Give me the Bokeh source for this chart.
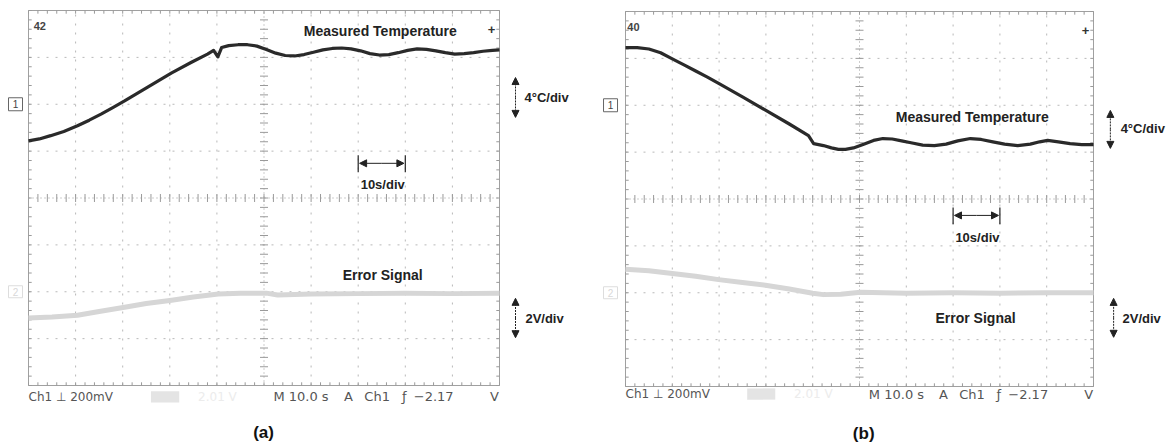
import numpy as np
from bokeh.plotting import figure
from bokeh.layouts import row
from bokeh.models import Label, Arrow, NormalHead, Range1d
from bokeh.embed import file_html
from bokeh.resources import INLINE

# ---------------- data (time in s, amplitude in screen divisions) ----------------
# panel (a)
temp_a_t = [0, 2.3, 4.7, 7.5, 10.4, 12.9, 15.4, 17.9, 20.4, 25.4, 30.4, 34.5, 38.0, 39.3, 40.2,
            41.0, 42.5, 44.5, 46.5, 48.5, 50.5, 52.5, 54.5, 56.5, 58.5, 60.5, 62.5, 64.5, 66.5,
            68.5, 70.5, 72.5, 74.5, 76.5, 78.5, 80.5, 82.5, 84.5, 86.5, 88.5, 90.5, 92.5, 94.5,
            96.5, 98.5, 100]
temp_a_v = [1.22, 1.26, 1.33, 1.42, 1.54, 1.66, 1.79, 1.93, 2.07, 2.37, 2.67, 2.89, 3.07, 3.15, 3.01,
            3.21, 3.25, 3.27, 3.27, 3.24, 3.17, 3.09, 3.04, 3.03, 3.06, 3.11, 3.16, 3.19, 3.20,
            3.18, 3.14, 3.08, 3.05, 3.06, 3.10, 3.15, 3.18, 3.17, 3.14, 3.10, 3.07, 3.08, 3.10,
            3.13, 3.15, 3.16]
err_a_t = [0, 5, 10.4, 15, 20.4, 25, 30.4, 35, 40.3, 45.0, 50.5, 52.9, 60, 70, 80, 90, 100]
err_a_v = [-2.56, -2.54, -2.50, -2.42, -2.33, -2.25, -2.18, -2.11, -2.05, -2.03, -2.03, -2.07,
           -2.05, -2.04, -2.03, -2.04, -2.03]

# panel (b)
temp_b_t = [0, 2.5, 5, 7.5, 10, 12.5, 15, 17.5, 20, 25, 30, 35, 39.1, 40.2, 42.3, 44, 45.5, 47,
            48.7, 50.9, 53, 55, 57, 59, 61, 63.5, 66, 68.5, 71, 73.7, 76, 78.5, 81, 83.8, 86.5,
            88.5, 90.2, 92.5, 95, 97.5, 100]
temp_b_v = [3.23, 3.23, 3.20, 3.12, 2.99, 2.86, 2.73, 2.60, 2.46, 2.18, 1.89, 1.60, 1.35, 1.18,
            1.14, 1.09, 1.06, 1.06, 1.09, 1.17, 1.25, 1.29, 1.28, 1.24, 1.20, 1.15, 1.14, 1.17,
            1.24, 1.29, 1.27, 1.22, 1.17, 1.14, 1.17, 1.22, 1.25, 1.22, 1.18, 1.16, 1.16]
err_b_t = [0, 5, 10.0, 15, 19.9, 25, 29.9, 35, 40.0, 42.3, 46, 50.2, 60, 70, 80, 90, 100]
err_b_v = [-1.50, -1.53, -1.59, -1.65, -1.72, -1.78, -1.84, -1.92, -2.01, -2.04, -2.03, -1.99,
           -2.01, -2.00, -2.01, -2.00, -2.00]

status_left = "Ch1 \u22a5 200mV"
status_parts = ["M 10.0 s", "A", "Ch1", "\u0192", "\u22122.17", "V"]
trace_labels = ["Measured Temperature", "Error Signal"]

SEC_PER_DIV = 10
TEMP_COLOR = "#2a2a2a"
ERR_COLOR = "#d6d6d6"
GRID_COLOR = "#b8b8b8"
TICK_COLOR = "#9a9a9a"
TXT = "#222222"
FONT = "Liberation Sans"
MONO = "DejaVu Sans"


def make_panel(width, height, gx0, gx1, gy0, gy1, tt, tv, et, ev, ann):
    ppx = (gx1 - gx0) / 100.0
    ppd = (gy1 - gy0) / 8.0
    cy = (gy0 + gy1) / 2.0
    xr = Range1d(-gx0 / ppx, (width - gx0) / ppx)
    yr = Range1d(-(height - cy) / ppd, cy / ppd)
    p = figure(width=width, height=height, x_range=xr, y_range=yr, output_backend="svg",
               toolbar_location=None, min_border=0, x_axis_location=None, y_axis_location=None,
               outline_line_color=None, background_fill_color="white", border_fill_color="white")
    p.xgrid.visible = False
    p.ygrid.visible = False

    # graticule
    xs = [10, 20, 30, 40, 60, 70, 80, 90]
    ys = [-3, -2, -1, 1, 2, 3]
    p.segment(x0=xs, y0=[-4] * len(xs), x1=xs, y1=[4] * len(xs), line_color=GRID_COLOR,
              line_width=1, line_dash="2 7")
    p.segment(x0=[0] * len(ys), y0=ys, x1=[100] * len(ys), y1=ys, line_color=GRID_COLOR,
              line_width=1, line_dash="2 7")
    p.segment(x0=[50, 0], y0=[-4, 0], x1=[50, 100], y1=[4, 0], line_color=TICK_COLOR,
              line_width=1, line_dash="1 3")
    tl_x = 4 / ppx
    tl_y = 4 / ppd
    tx = np.arange(0, 100.001, 2.0)
    ty = np.arange(-4, 4.001, 0.2)
    p.segment(x0=tx, y0=-tl_y, x1=tx, y1=tl_y, line_color=TICK_COLOR, line_width=1)
    p.segment(x0=50 - tl_x, y0=ty, x1=50 + tl_x, y1=ty, line_color=TICK_COLOR, line_width=1)
    # border
    p.segment(x0=[0, 0, 0, 100], y0=[-4, 4, -4, -4], x1=[100, 100, 0, 100], y1=[-4, 4, 4, 4],
              line_color="#a0a0a0", line_width=1)
    p.segment(x0=tx, y0=-4, x1=tx, y1=-4 + tl_y * 0.8, line_color=TICK_COLOR)
    p.segment(x0=tx, y0=4, x1=tx, y1=4 - tl_y * 0.8, line_color=TICK_COLOR)
    p.segment(x0=0, y0=ty, x1=tl_x * 0.8, y1=ty, line_color=TICK_COLOR)
    p.segment(x0=100, y0=ty, x1=100 - tl_x * 0.8, y1=ty, line_color=TICK_COLOR)

    # traces
    p.line(et, ev, line_color=ERR_COLOR, line_width=5, line_join="round")
    p.line(tt, tv, line_color=TEMP_COLOR, line_width=3.2, line_join="round")

    # channel markers
    mx = ann["marker_x"]
    p.rect(x=[mx], y=[2], width=14, height=13, width_units="screen", height_units="screen",
           fill_color="white", line_color="#666666", line_width=1)
    p.rect(x=[mx], y=[-2], width=14, height=12, width_units="screen", height_units="screen",
           fill_color="white", line_color="#dddddd", line_width=1)
    p.add_layout(Label(x=mx, y=2, text="1", text_align="center", text_baseline="middle",
                       text_font=FONT, text_font_size="10px", text_color="#444444"))
    p.add_layout(Label(x=mx, y=-2, text="2", text_align="center", text_baseline="middle",
                       text_font=FONT, text_font_size="10px", text_color="#d8d8d8"))
    p.add_layout(Label(x=ann["corner"][0], y=ann["corner"][1], text=ann["corner_text"],
                       text_align="center", text_baseline="middle", text_font=FONT,
                       text_font_style="bold", text_font_size="11px", text_color="#444444"))
    p.add_layout(Label(x=98.3, y=3.6, text="+", text_align="center", text_baseline="middle",
                       text_font=FONT, text_font_style="bold", text_font_size="13px",
                       text_color="#333333"))

    # trace labels
    for lab, (lx, ly) in zip(trace_labels, [ann["temp_label"], ann["err_label"]]):
        p.add_layout(Label(x=lx, y=ly, text=lab, text_align="center", text_baseline="middle",
                           text_font=FONT, text_font_style="bold", text_font_size="14px",
                           text_color=TXT))

    # scale arrows
    def vhead():
        return NormalHead(size=7, fill_color=TXT, line_color=TXT)
    for (ax, ay0, ay1), (txx, txy, s) in [(ann["tarrow"], ann["ttext"]), (ann["varrow"], ann["vtext"])]:
        p.add_layout(Arrow(x_start=ax, y_start=(ay0 + ay1) / 2, x_end=ax, y_end=ay0, end=vhead(),
                           line_color=TXT, line_width=1, line_dash="2 1"))
        p.add_layout(Arrow(x_start=ax, y_start=(ay0 + ay1) / 2, x_end=ax, y_end=ay1, end=vhead(),
                           line_color=TXT, line_width=1, line_dash="2 1"))
        p.add_layout(Label(x=txx, y=txy, text=s, text_align="left", text_baseline="middle",
                           text_font=FONT, text_font_style="bold", text_font_size="13px",
                           text_color=TXT))
    hy, hb0, hb1 = ann["harrow"]
    p.segment(x0=[7 * SEC_PER_DIV, 8 * SEC_PER_DIV], y0=[hb0, hb0], x1=[7 * SEC_PER_DIV, 8 * SEC_PER_DIV],
              y1=[hb1, hb1], line_color=TXT, line_width=1.2)
    p.add_layout(Arrow(x_start=75, y_start=hy, x_end=70.3, y_end=hy, end=vhead(), line_color=TXT,
                       line_width=1))
    p.add_layout(Arrow(x_start=75, y_start=hy, x_end=79.7, y_end=hy, end=vhead(), line_color=TXT,
                       line_width=1))
    p.add_layout(Label(x=75.2, y=ann["htext_y"], text="10s/div", text_align="center",
                       text_baseline="middle", text_font=FONT, text_font_style="bold",
                       text_font_size="13px", text_color=TXT))

    # status line
    sy = ann["status_y"]
    p.add_layout(Label(x=0, y=sy, text=status_left, text_align="left", text_baseline="middle",
                       text_font=MONO, text_font_size="12px", text_color="#555555"))
    p.quad(left=[26], right=[32], bottom=[sy - 0.12], top=[sy + 0.12], fill_color="#e4e4e4",
           line_color=None)
    p.add_layout(Label(x=36, y=sy, text="2.01 V", text_align="left", text_baseline="middle",
                       text_font=MONO, text_font_size="12px", text_color="#ececec"))
    for s, sx in zip(status_parts, [52.0, 67.0, 71.3, 79.3, 81.8, 98.0]):
        p.add_layout(Label(x=sx, y=sy, text=s, text_align="left", text_baseline="middle",
                           text_font=MONO, text_font_size="13px", text_color="#555555"))
    p.add_layout(Label(x=ann["tag"][0], y=ann["tag"][1], text=ann["tag_text"], text_align="center",
                       text_baseline="middle", text_font=FONT, text_font_style="bold",
                       text_font_size="17px", text_color="#111111"))
    return p


ann_a = dict(marker_x=-2.76, corner=(2.4, 3.66), corner_text="42",
             temp_label=(74.7, 3.57), err_label=(75.2, -1.65),
             tarrow=(103.4, 2.57, 1.72), ttext=(105.3, 2.14, "4\u00b0C/div"),
             varrow=(103.4, -2.14, -2.98), vtext=(105.5, -2.57, "2V/div"),
             harrow=(0.74, 0.91, 0.55), htext_y=0.29, status_y=-4.24,
             tag=(49.9, -5.0), tag_text="(a)")
ann_b = dict(marker_x=-3.2, corner=(1.7, 3.68), corner_text="40",
             temp_label=(74.1, 1.74), err_label=(74.8, -2.53),
             tarrow=(103.6, 1.89, 1.08), ttext=(105.8, 1.50, "4\u00b0C/div"),
             varrow=(104.3, -2.12, -2.95), vtext=(106.2, -2.55, "2V/div"),
             harrow=(-0.35, -0.18, -0.54), htext_y=-0.82, status_y=-4.16,
             tag=(50.9, -5.0), tag_text="(b)")

pa = make_panel(586, 447, 28, 499, 10, 385, temp_a_t, temp_a_v, err_a_t, err_a_v, ann_a)
pb = make_panel(587, 447, 39, 507, 11, 386, temp_b_t, temp_b_v, err_b_t, err_b_v, ann_b)

layout = row(pa, pb, spacing=0)
open("out.html", "w").write(file_html(layout, INLINE))
